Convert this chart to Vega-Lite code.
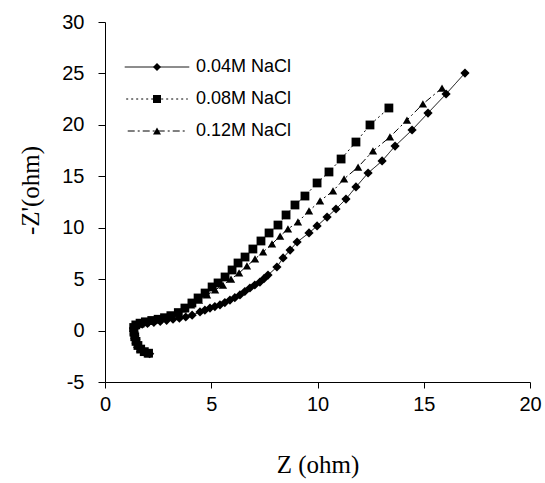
{
  "$schema": "https://vega.github.io/schema/vega-lite/v6.json",
  "width": 425,
  "height": 360,
  "autosize": {"type": "none"},
  "padding": {"left": 105, "top": 22, "right": 15, "bottom": 101},
  "background": "white",
  "config": {
    "view": {"stroke": null},
    "axis": {
      "grid": false,
      "domainColor": "black",
      "tickColor": "black",
      "labelColor": "black",
      "titleColor": "black",
      "labelFont": "Liberation Sans",
      "labelFontSize": 20,
      "titleFont": "Liberation Serif",
      "titleFontSize": 25,
      "titleFontWeight": "normal"
    }
  },
  "data": {
    "values": [
      {"s": "0.04M NaCl", "x": 2.10, "y": -2.25},
      {"s": "0.04M NaCl", "x": 1.92, "y": -2.15},
      {"s": "0.04M NaCl", "x": 1.75, "y": -1.95},
      {"s": "0.04M NaCl", "x": 1.62, "y": -1.65},
      {"s": "0.04M NaCl", "x": 1.52, "y": -1.30},
      {"s": "0.04M NaCl", "x": 1.45, "y": -0.90},
      {"s": "0.04M NaCl", "x": 1.40, "y": -0.50},
      {"s": "0.04M NaCl", "x": 1.36, "y": -0.10},
      {"s": "0.04M NaCl", "x": 1.34, "y": 0.25},
      {"s": "0.04M NaCl", "x": 1.40, "y": 0.45},
      {"s": "0.04M NaCl", "x": 1.55, "y": 0.55},
      {"s": "0.04M NaCl", "x": 1.75, "y": 0.62},
      {"s": "0.04M NaCl", "x": 2.00, "y": 0.70},
      {"s": "0.04M NaCl", "x": 2.30, "y": 0.80},
      {"s": "0.04M NaCl", "x": 2.60, "y": 0.90},
      {"s": "0.04M NaCl", "x": 2.90, "y": 1.00},
      {"s": "0.04M NaCl", "x": 3.20, "y": 1.10},
      {"s": "0.04M NaCl", "x": 3.50, "y": 1.20},
      {"s": "0.04M NaCl", "x": 3.80, "y": 1.32},
      {"s": "0.04M NaCl", "x": 4.10, "y": 1.50},
      {"s": "0.04M NaCl", "x": 4.47, "y": 1.81},
      {"s": "0.04M NaCl", "x": 4.70, "y": 1.98},
      {"s": "0.04M NaCl", "x": 4.94, "y": 2.19},
      {"s": "0.04M NaCl", "x": 5.17, "y": 2.33},
      {"s": "0.04M NaCl", "x": 5.41, "y": 2.49},
      {"s": "0.04M NaCl", "x": 5.64, "y": 2.72},
      {"s": "0.04M NaCl", "x": 5.88, "y": 2.97},
      {"s": "0.04M NaCl", "x": 6.11, "y": 3.20},
      {"s": "0.04M NaCl", "x": 6.35, "y": 3.46},
      {"s": "0.04M NaCl", "x": 6.58, "y": 3.80},
      {"s": "0.04M NaCl", "x": 6.82, "y": 4.14},
      {"s": "0.04M NaCl", "x": 7.05, "y": 4.43},
      {"s": "0.04M NaCl", "x": 7.29, "y": 4.72},
      {"s": "0.04M NaCl", "x": 7.48, "y": 5.05},
      {"s": "0.04M NaCl", "x": 7.67, "y": 5.40},
      {"s": "0.04M NaCl", "x": 8.09, "y": 6.18},
      {"s": "0.04M NaCl", "x": 8.38, "y": 7.06},
      {"s": "0.04M NaCl", "x": 8.71, "y": 7.83},
      {"s": "0.04M NaCl", "x": 9.04, "y": 8.61},
      {"s": "0.04M NaCl", "x": 9.60, "y": 9.49},
      {"s": "0.04M NaCl", "x": 9.98, "y": 10.17},
      {"s": "0.04M NaCl", "x": 10.45, "y": 11.04},
      {"s": "0.04M NaCl", "x": 10.87, "y": 11.82},
      {"s": "0.04M NaCl", "x": 11.34, "y": 12.79},
      {"s": "0.04M NaCl", "x": 11.81, "y": 13.96},
      {"s": "0.04M NaCl", "x": 12.38, "y": 15.32},
      {"s": "0.04M NaCl", "x": 13.04, "y": 16.49},
      {"s": "0.04M NaCl", "x": 13.65, "y": 17.94},
      {"s": "0.04M NaCl", "x": 14.45, "y": 19.50},
      {"s": "0.04M NaCl", "x": 15.20, "y": 21.15},
      {"s": "0.04M NaCl", "x": 16.05, "y": 23.00},
      {"s": "0.04M NaCl", "x": 16.94, "y": 25.04},

      {"s": "0.08M NaCl", "x": 2.05, "y": -2.20},
      {"s": "0.08M NaCl", "x": 1.85, "y": -2.05},
      {"s": "0.08M NaCl", "x": 1.68, "y": -1.80},
      {"s": "0.08M NaCl", "x": 1.55, "y": -1.45},
      {"s": "0.08M NaCl", "x": 1.46, "y": -1.05},
      {"s": "0.08M NaCl", "x": 1.40, "y": -0.60},
      {"s": "0.08M NaCl", "x": 1.36, "y": -0.15},
      {"s": "0.08M NaCl", "x": 1.35, "y": 0.30},
      {"s": "0.08M NaCl", "x": 1.45, "y": 0.55},
      {"s": "0.08M NaCl", "x": 1.65, "y": 0.72},
      {"s": "0.08M NaCl", "x": 1.90, "y": 0.85},
      {"s": "0.08M NaCl", "x": 2.20, "y": 0.98},
      {"s": "0.08M NaCl", "x": 2.50, "y": 1.10},
      {"s": "0.08M NaCl", "x": 2.80, "y": 1.25},
      {"s": "0.08M NaCl", "x": 3.10, "y": 1.45},
      {"s": "0.08M NaCl", "x": 3.45, "y": 1.75},
      {"s": "0.08M NaCl", "x": 3.76, "y": 2.19},
      {"s": "0.08M NaCl", "x": 4.09, "y": 2.68},
      {"s": "0.08M NaCl", "x": 4.38, "y": 3.17},
      {"s": "0.08M NaCl", "x": 4.71, "y": 3.65},
      {"s": "0.08M NaCl", "x": 5.04, "y": 4.24},
      {"s": "0.08M NaCl", "x": 5.32, "y": 4.63},
      {"s": "0.08M NaCl", "x": 5.65, "y": 5.21},
      {"s": "0.08M NaCl", "x": 5.98, "y": 5.89},
      {"s": "0.08M NaCl", "x": 6.26, "y": 6.57},
      {"s": "0.08M NaCl", "x": 6.59, "y": 7.15},
      {"s": "0.08M NaCl", "x": 6.96, "y": 7.93},
      {"s": "0.08M NaCl", "x": 7.34, "y": 8.71},
      {"s": "0.08M NaCl", "x": 7.72, "y": 9.49},
      {"s": "0.08M NaCl", "x": 8.14, "y": 10.26},
      {"s": "0.08M NaCl", "x": 8.52, "y": 11.24},
      {"s": "0.08M NaCl", "x": 8.94, "y": 12.21},
      {"s": "0.08M NaCl", "x": 9.41, "y": 13.08},
      {"s": "0.08M NaCl", "x": 9.98, "y": 14.35},
      {"s": "0.08M NaCl", "x": 10.54, "y": 15.42},
      {"s": "0.08M NaCl", "x": 11.11, "y": 16.68},
      {"s": "0.08M NaCl", "x": 11.81, "y": 18.33},
      {"s": "0.08M NaCl", "x": 12.47, "y": 19.99},
      {"s": "0.08M NaCl", "x": 13.36, "y": 21.64},

      {"s": "0.12M NaCl", "x": 2.00, "y": -2.25},
      {"s": "0.12M NaCl", "x": 1.82, "y": -2.05},
      {"s": "0.12M NaCl", "x": 1.65, "y": -1.75},
      {"s": "0.12M NaCl", "x": 1.52, "y": -1.35},
      {"s": "0.12M NaCl", "x": 1.44, "y": -0.90},
      {"s": "0.12M NaCl", "x": 1.38, "y": -0.45},
      {"s": "0.12M NaCl", "x": 1.35, "y": 0.00},
      {"s": "0.12M NaCl", "x": 1.38, "y": 0.40},
      {"s": "0.12M NaCl", "x": 1.55, "y": 0.65},
      {"s": "0.12M NaCl", "x": 1.80, "y": 0.80},
      {"s": "0.12M NaCl", "x": 2.10, "y": 0.95},
      {"s": "0.12M NaCl", "x": 2.40, "y": 1.10},
      {"s": "0.12M NaCl", "x": 2.70, "y": 1.25},
      {"s": "0.12M NaCl", "x": 3.00, "y": 1.45},
      {"s": "0.12M NaCl", "x": 3.35, "y": 1.75},
      {"s": "0.12M NaCl", "x": 3.67, "y": 2.10},
      {"s": "0.12M NaCl", "x": 4.05, "y": 2.49},
      {"s": "0.12M NaCl", "x": 4.42, "y": 2.97},
      {"s": "0.12M NaCl", "x": 4.80, "y": 3.46},
      {"s": "0.12M NaCl", "x": 5.18, "y": 3.95},
      {"s": "0.12M NaCl", "x": 5.55, "y": 4.43},
      {"s": "0.12M NaCl", "x": 5.93, "y": 5.01},
      {"s": "0.12M NaCl", "x": 6.31, "y": 5.60},
      {"s": "0.12M NaCl", "x": 6.68, "y": 6.28},
      {"s": "0.12M NaCl", "x": 7.06, "y": 6.96},
      {"s": "0.12M NaCl", "x": 7.44, "y": 7.64},
      {"s": "0.12M NaCl", "x": 7.86, "y": 8.42},
      {"s": "0.12M NaCl", "x": 8.24, "y": 9.19},
      {"s": "0.12M NaCl", "x": 8.61, "y": 9.88},
      {"s": "0.12M NaCl", "x": 9.08, "y": 10.56},
      {"s": "0.12M NaCl", "x": 9.60, "y": 11.63},
      {"s": "0.12M NaCl", "x": 10.12, "y": 12.60},
      {"s": "0.12M NaCl", "x": 10.73, "y": 13.57},
      {"s": "0.12M NaCl", "x": 11.25, "y": 14.74},
      {"s": "0.12M NaCl", "x": 11.91, "y": 15.90},
      {"s": "0.12M NaCl", "x": 12.61, "y": 17.46},
      {"s": "0.12M NaCl", "x": 13.41, "y": 18.82},
      {"s": "0.12M NaCl", "x": 14.21, "y": 20.47},
      {"s": "0.12M NaCl", "x": 14.96, "y": 22.03},
      {"s": "0.12M NaCl", "x": 15.86, "y": 23.58}
    ]
  },
  "encoding": {
    "x": {
      "field": "x",
      "type": "quantitative",
      "scale": {"domain": [0, 20], "nice": false, "zero": false},
      "axis": {
        "title": "Z (ohm)",
        "values": [0, 5, 10, 15, 20],
        "labelExpr": "'' + datum.value",
        "tickSize": 6,
        "labelPadding": 6,
        "labelFlush": false,
        "titleY": 82,
        "titleBaseline": "middle"
      }
    },
    "y": {
      "field": "y",
      "type": "quantitative",
      "scale": {"domain": [-5, 30], "nice": false, "zero": false},
      "axis": {
        "title": "-Z'(ohm)",
        "values": [-5, 0, 5, 10, 15, 20, 25, 30],
        "labelExpr": "'' + datum.value",
        "tickSize": 7,
        "labelPadding": 14,
        "labelFlush": false,
        "titleX": -75,
        "titleY": 168,
        "titleAngle": -90,
        "titleBaseline": "middle"
      }
    }
  },
  "layer": [
    {
      "mark": {"type": "line", "color": "black", "strokeWidth": 1},
      "encoding": {
        "order": {"value": null},
        "strokeDash": {
          "field": "s",
          "type": "nominal",
          "scale": {
            "domain": ["0.04M NaCl", "0.08M NaCl", "0.12M NaCl"],
            "range": [[1, 0], [2, 3], [7, 3, 2, 3]]
          },
          "legend": {
            "title": null,
            "orient": "none",
            "legendX": 43,
            "legendY": 36,
            "padding": 0,
            "symbolType": "M-7,0H7",
            "symbolSize": 100,
            "symbolStrokeWidth": 1,
            "symbolStrokeColor": "black",
            "labelOffset": 30,
            "labelFont": "Liberation Sans",
            "labelFontSize": 18,
            "labelColor": "black",
            "rowPadding": 14
          }
        }
      }
    },
    {
      "mark": {"type": "point", "filled": true, "opacity": 1, "color": "black"},
      "encoding": {
        "shape": {
          "field": "s",
          "type": "nominal",
          "scale": {"range": ["diamond", "square", "triangle-up"]},
          "legend": {
            "title": null,
            "orient": "none",
            "legendX": 43,
            "legendY": 36,
            "padding": 0,
            "symbolSize": 64,
            "symbolFillColor": "black",
            "labelExpr": "' '",
            "labelOffset": 5,
            "labelFont": "Liberation Sans",
            "labelFontSize": 18,
            "rowPadding": 14
          }
        },
        "size": {
          "field": "s",
          "type": "nominal",
          "scale": {
            "domain": ["0.04M NaCl", "0.08M NaCl", "0.12M NaCl"],
            "range": [85, 70, 85]
          },
          "legend": null
        }
      }
    }
  ]
}
